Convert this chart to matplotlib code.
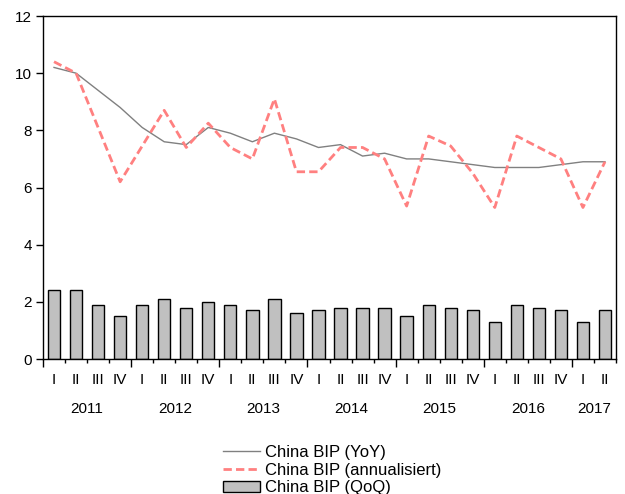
import matplotlib
matplotlib.use("Agg")
import matplotlib.pyplot as plt
import numpy as np

plt.rcParams['font.family'] = ['Liberation Sans', 'DejaVu Sans']
plt.rcParams['font.size'] = 11

years = ["2011", "2012", "2013", "2014", "2015", "2016", "2017"]
quarter_names = ["I", "II", "III", "IV"]
n_quarters = 26

yoy = [10.2, 10.0, 9.4, 8.8, 8.1, 7.6, 7.5, 8.1, 7.9, 7.6, 7.9, 7.7, 7.4,
       7.5, 7.1, 7.2, 7.0, 7.0, 6.9, 6.8, 6.7, 6.7, 6.7, 6.8, 6.9, 6.9]
annualized = [10.4, 10.0, 8.1, 6.2, 7.45, 8.7, 7.4, 8.25, 7.4, 7.0, 9.1, 6.55, 6.55,
              7.4, 7.4, 7.0, 5.35, 7.8, 7.45, 6.5, 5.3, 7.8, 7.4, 7.0, 5.3, 6.9]
qoq = [2.4, 2.4, 1.9, 1.5, 1.9, 2.1, 1.8, 2.0, 1.9, 1.7, 2.1, 1.6, 1.7,
       1.8, 1.8, 1.8, 1.5, 1.9, 1.8, 1.7, 1.3, 1.9, 1.8, 1.7, 1.3, 1.7]

labels_series = ["China BIP (YoY)", "China BIP (annualisiert)", "China BIP (QoQ)"]

fig = plt.figure(figsize=(6.25, 4.94), dpi=100)
ax = fig.add_axes([43/625, 1-359/494, (616-43)/625, (359-16)/494])

x = np.arange(n_quarters)
bars = ax.bar(x, qoq, width=0.56, color="#c0c0c0", edgecolor="black", linewidth=1.0,
              zorder=2, label=labels_series[2])
l1, = ax.plot(x, yoy, color="#808080", linewidth=1.0, zorder=3, label=labels_series[0])
l2, = ax.plot(x, annualized, color="#ff8080", linewidth=2.0, dashes=(3, 1.5), zorder=4,
              label=labels_series[1])

ax.set_xlim(-0.5, n_quarters - 0.5)
ax.set_ylim(0, 12)
ax.set_yticks(np.arange(0, 13, 2))
ax.tick_params(axis='y', direction='out', length=5, width=1, labelsize=11, pad=3)

for s in ax.spines.values():
    s.set_linewidth(1.0)

# quarter labels at bar centers
ax.set_xticks(x)
ax.set_xticklabels([quarter_names[i % 4] for i in range(n_quarters)])
ax.tick_params(axis='x', which='major', length=0, pad=10, labelsize=11)

# boundary ticks
bounds = np.arange(-0.5, n_quarters, 1.0)
year_bounds = [b for i, b in enumerate(bounds) if i % 4 == 0]
minor_bounds = [b for i, b in enumerate(bounds) if i % 4 != 0]
ax.set_xticks(minor_bounds, minor=True)
ax.tick_params(axis='x', which='minor', length=3, width=1, direction='out')
sec = ax.secondary_xaxis('bottom')
sec.set_xticks(year_bounds)
sec.set_xticklabels([])
sec.tick_params(length=6, width=1, direction='out')
sec.spines['bottom'].set_visible(False)

# year labels
for i, yr in enumerate(years):
    start = i * 4
    end = min(start + 3, n_quarters - 1)
    ax.annotate(yr, xy=((start + end) / 2, 0), xycoords=ax.get_xaxis_transform(),
                xytext=(0, -43), textcoords='offset pixels', ha='center', va='top',
                fontsize=11)

fig.legend(handles=[l1, l2, bars], labels=labels_series, loc='upper left',
           bbox_to_anchor=(223/625, 1-445/494), frameon=False, fontsize=12,
           handlelength=2.2, handletextpad=0.3, labelspacing=0.16, borderpad=0,
           borderaxespad=0)

fig.savefig("out.png", dpi=100)
